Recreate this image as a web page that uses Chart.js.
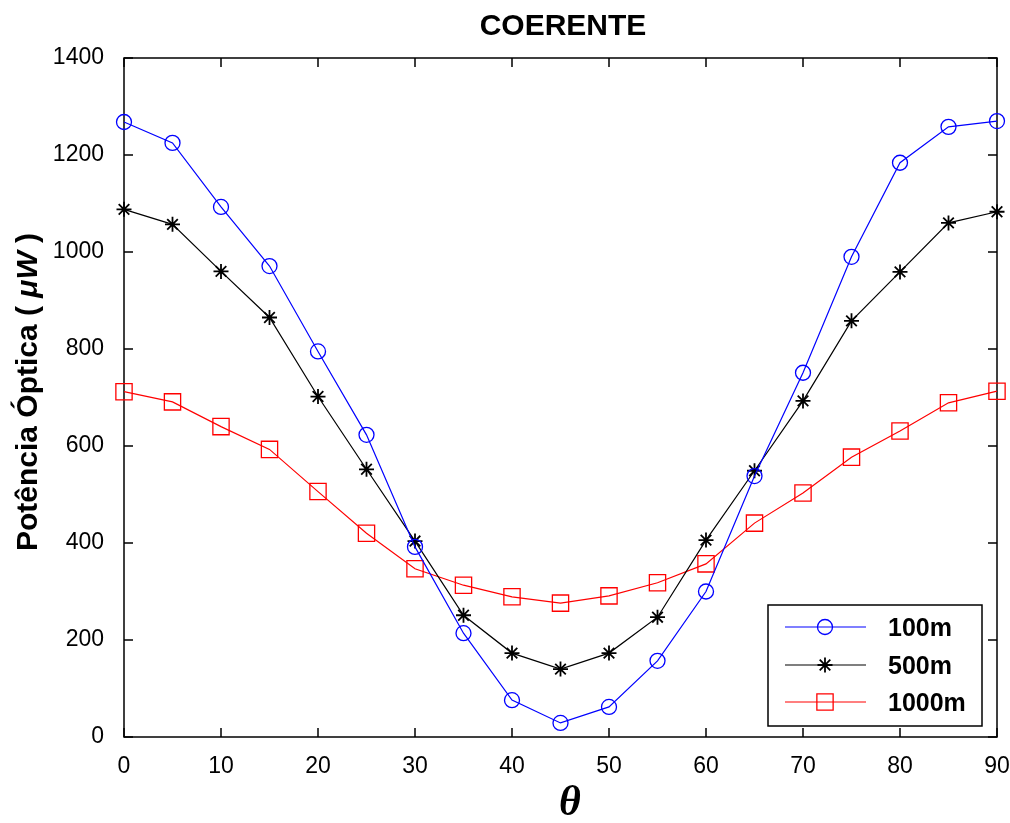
<!DOCTYPE html>
<html><head><meta charset="utf-8">
<script src="https://cdn.jsdelivr.net/npm/chart.js@4"></script>
<style>html,body{margin:0;padding:0;background:#fff}#wrap{width:1010px;height:823px;position:relative}</style>
</head><body><div id="wrap"><canvas id="c" width="1010" height="823"></canvas></div>
<script>
const theta = [0,5,10,15,20,25,30,35,40,45,50,55,60,65,70,75,80,85,90];
const p100  = [1268,1225,1093,971,795,623,392,214,76,29,62,157,300,538,751,990,1184,1258,1270];
const p500  = [1088,1057,960,865,702,552,404,251,173,140,173,247,406,549,693,858,959,1060,1083];
const p1000 = [712,691,640,593,506,420,347,313,289,276,291,318,357,441,503,577,631,689,713];
const xTicks = [0,10,20,30,40,50,60,70,80,90];
const yTicks = [0,200,400,600,800,1000,1200,1400];
const seriesNames = ['100m','500m','1000m'];
const titleText = 'COERENTE';
const yLabelParts = [['Potência Óptica ( ', 'bold'], ['\u03BCW', 'italic bold'], [' )', 'bold']];
const xLabelText = '\u03B8';

const SANS = "'Liberation Sans', Arial, sans-serif";
const toPts = arr => theta.map((t, i) => ({x: t, y: arr[i]}));

function marker(ctx, style, x, y, r, color, lw) {
  ctx.save();
  ctx.strokeStyle = color; ctx.lineWidth = lw;
  ctx.beginPath();
  if (style === 'circle') { ctx.arc(x, y, r, 0, Math.PI * 2); }
  else if (style === 'rect') { const s = Math.SQRT1_2 * r; ctx.rect(x - s, y - s, 2 * s, 2 * s); }
  else if (style === 'star') {
    ctx.moveTo(x - r, y); ctx.lineTo(x + r, y); ctx.moveTo(x, y - r); ctx.lineTo(x, y + r);
    const d = Math.SQRT1_2 * r;
    ctx.moveTo(x - d, y - d); ctx.lineTo(x + d, y + d); ctx.moveTo(x - d, y + d); ctx.lineTo(x + d, y - d);
  }
  ctx.stroke();
  ctx.restore();
}

const decor = {
  id: 'decor',
  beforeDatasetsDraw(chart) {
    const {ctx, chartArea: a, scales: {x, y}} = chart;
    ctx.save();
    ctx.strokeStyle = '#000'; ctx.lineWidth = 1.5;
    ctx.strokeRect(a.left, a.top, a.right - a.left, a.bottom - a.top);
    const L = 9;
    ctx.beginPath();
    xTicks.forEach(v => {
      const px = x.getPixelForValue(v);
      ctx.moveTo(px, a.bottom); ctx.lineTo(px, a.bottom - L);
      ctx.moveTo(px, a.top); ctx.lineTo(px, a.top + L);
    });
    yTicks.forEach(v => {
      const py = y.getPixelForValue(v);
      ctx.moveTo(a.left, py); ctx.lineTo(a.left + L, py);
      ctx.moveTo(a.right, py); ctx.lineTo(a.right - L, py);
    });
    ctx.stroke();
    ctx.restore();
  },
  afterDraw(chart) {
    const {ctx} = chart;
    ctx.save();
    ctx.fillStyle = '#000';
    // title
    ctx.font = 'bold 30px ' + SANS;
    ctx.textAlign = 'center'; ctx.textBaseline = 'alphabetic';
    ctx.fillText(titleText, 563, 35);
    // x label
    ctx.font = 'italic bold 42px "Liberation Serif", "Times New Roman", serif';
    ctx.fillText(xLabelText, 570, 815);
    // y label
    ctx.save();
    ctx.translate(37, 392);
    ctx.rotate(-Math.PI / 2);
    let total = 0;
    const widths = yLabelParts.map(([t, f]) => { ctx.font = f + ' 30px ' + SANS; const w = ctx.measureText(t).width; total += w; return w; });
    let cx = -total / 2;
    ctx.textAlign = 'left';
    yLabelParts.forEach(([t, f], i) => { ctx.font = f + ' 30px ' + SANS; ctx.fillText(t, cx, 0); cx += widths[i]; });
    ctx.restore();
    // legend
    const bx = 768, by = 605, bw = 214, bh = 121;
    ctx.fillStyle = '#fff'; ctx.fillRect(bx, by, bw, bh);
    ctx.strokeStyle = '#000'; ctx.lineWidth = 1.5; ctx.strokeRect(bx, by, bw, bh);
    const rows = [627, 665, 702];
    chart.data.datasets.forEach((ds, i) => {
      const yy = rows[i];
      ctx.strokeStyle = ds.borderColor; ctx.lineWidth = ds.borderWidth;
      ctx.beginPath(); ctx.moveTo(785, yy); ctx.lineTo(866, yy); ctx.stroke();
      marker(ctx, ds.pointStyle, 825, yy, ds.pointRadius, ds.borderColor, ds.pointBorderWidth);
      ctx.fillStyle = '#000';
      ctx.font = 'bold 25px ' + SANS;
      ctx.textAlign = 'left'; ctx.textBaseline = 'middle';
      ctx.fillText(seriesNames[i], 888, yy + 2);
    });
    ctx.restore();
  }
};

const common = {showLine: true, fill: false, tension: 0, clip: false, pointBackgroundColor: 'rgba(0,0,0,0)', pointHoverRadius: 0};

new Chart(document.getElementById('c'), {
  type: 'scatter',
  data: {
    datasets: [
      Object.assign({}, common, {label: seriesNames[0], data: toPts(p100), borderColor: '#0000ff', borderWidth: 1.2, pointStyle: 'circle', pointRadius: 7.5, pointBorderWidth: 1.3, pointBorderColor: '#0000ff'}),
      Object.assign({}, common, {label: seriesNames[1], data: toPts(p500), borderColor: '#000000', borderWidth: 1.2, pointStyle: 'star', pointRadius: 7.5, pointBorderWidth: 1.8, pointBorderColor: '#000000'}),
      Object.assign({}, common, {label: seriesNames[2], data: toPts(p1000), borderColor: '#ff0000', borderWidth: 1.2, pointStyle: 'rect', pointRadius: 11.5, pointBorderWidth: 1.3, pointBorderColor: '#ff0000'})
    ]
  },
  options: {
    responsive: false, animation: false, devicePixelRatio: 1,
    layout: {padding: {top: 58, right: 13, left: 0, bottom: 0}},
    plugins: {legend: {display: false}, tooltip: {enabled: false}, title: {display: false}},
    events: [],
    scales: {
      x: {
        type: 'linear', min: xTicks[0], max: xTicks[xTicks.length - 1],
        afterBuildTicks: s => { s.ticks = xTicks.map(v => ({value: v})); },
        afterFit: s => { s.height = 86; s.paddingLeft = 0; s.paddingRight = 0; },
        grid: {display: false}, border: {display: false},
        ticks: {color: '#000', font: {family: SANS, size: 23}, padding: 8, maxRotation: 0, autoSkip: false, callback: v => String(v)}
      },
      y: {
        type: 'linear', min: yTicks[0], max: yTicks[yTicks.length - 1],
        afterBuildTicks: s => { s.ticks = yTicks.map(v => ({value: v})); },
        afterFit: s => { s.width = 124; s.paddingTop = 0; s.paddingBottom = 0; },
        grid: {display: false}, border: {display: false},
        ticks: {color: '#000', font: {family: SANS, size: 23}, padding: 12, autoSkip: false, callback: v => String(v)}
      }
    }
  },
  plugins: [decor]
});
</script></body></html>
